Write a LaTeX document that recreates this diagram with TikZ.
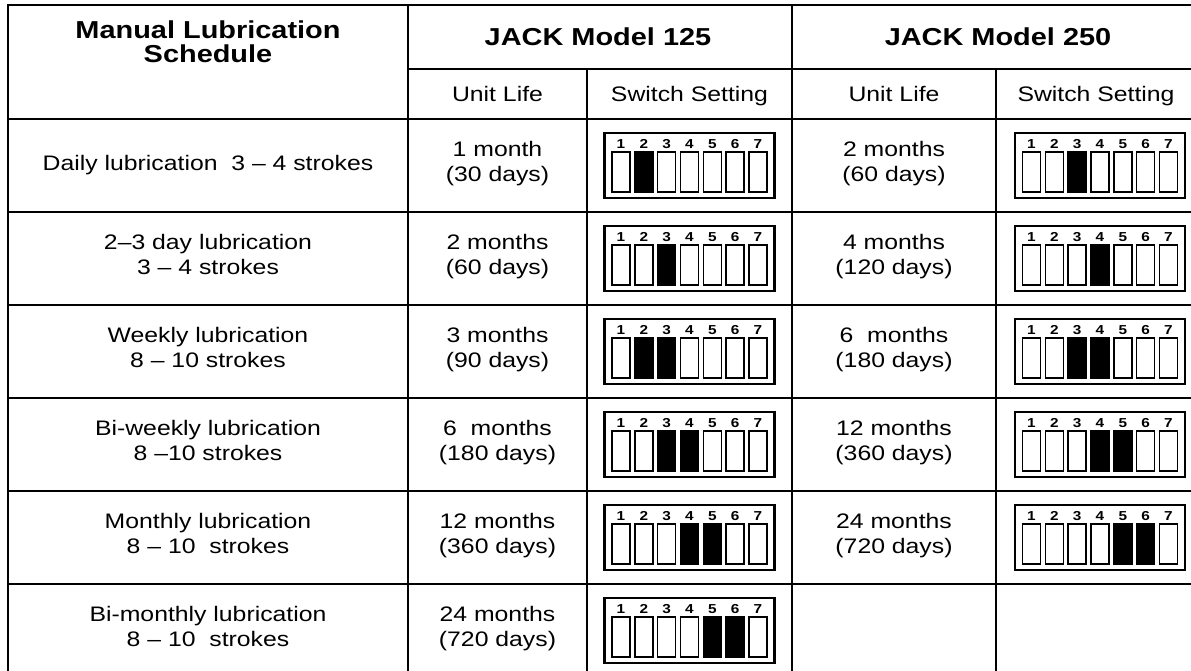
\documentclass[tikz,border=0pt]{standalone}
\usepackage{fontspec}
\setmainfont{Liberation Sans}[FakeStretch=1.18]
\usetikzlibrary{positioning}

\tikzset{
	pics/dip/.style={code={% one DIP switch, #1 = slots that are on
		\edef\dipon{#1}
		\draw[line width=2.6pt] (-85,-32.5) rectangle (85,32.5);
		\foreach \k in {1,...,7}{
			\node[font=\bfseries\fontsize{13}{13}\selectfont, inner sep=0pt]
				(n\k) at ({-68.5+(\k-1)*22.83},-21.5) {\k};
			\draw[line width=1.5pt] ({-77.5+(\k-1)*22.83},-13.5) rectangle ++(18,40);
		}
		\foreach \k in \dipon
			\fill ({-77.5+(\k-1)*22.83},-13.5) rectangle ++(18,40);
	}}
}

\begin{document}
\begin{tikzpicture}[
		x=1pt, y=-1pt,
		G/.style = {line width=1.6pt},% grid lines
		T/.style = {align=center, inner sep=0pt,
			font=\fontsize{21}{25}\selectfont,
			execute at begin node=\strut, execute at end node=\strut},
		H/.style = {align=center, inner sep=0pt,
			font=\bfseries\fontsize{24.5}{24}\selectfont},
		]
		\useasboundingbox (0,0) rectangle (1191,670);
		% grid
		\draw[G] (8,680) -- (8,5) -- (1210,5);
		\draw[G] (408,5) -- (408,680);
		\draw[G] (792,5) -- (792,680);
		\draw[G] (587,69) -- (587,680);
		\draw[G] (996,69) -- (996,680);
		\draw[G] (408,69) -- (1210,69);
		\foreach \y in {119,212,305,398,491,584}
		\draw[G] (8,\y) -- (1210,\y);
		% header
		\node[H] (sched) at (208,42) {Manual Lubrication\\Schedule};
		\node[H] (m125) at (598,37) {JACK Model 125};
		\node[H] (m250) at (998,37) {JACK Model 250};
		\node[T] (life1) at (497.5,96) {Unit Life};
		\node[T] (sw1) at (689.5,96) {Switch Setting};
		\node[T] (life2) at (894,96) {Unit Life};
		\node[T] (sw2) at (1096,96) {Switch Setting};
		% model 125
		\foreach [evaluate=\r as \yy using 72.5+93*\r]
			\r/\s/\l/\o in {
			1/{Daily lubrication\ \ 3 -- 4 strokes}/{1 month\\(30 days)}/{2},
			2/{2--3 day lubrication\\3 -- 4 strokes}/{2 months\\(60 days)}/{3},
			3/{Weekly lubrication\\8 -- 10 strokes}/{3 months\\(90 days)}/{2,3},
			4/{Bi-weekly lubrication\\8 --10 strokes}/{6\ \ months\\(180 days)}/{3,4},
			5/{Monthly lubrication\\8 -- 10\ \ strokes}/{12 months\\(360 days)}/{4,5},
			6/{Bi-monthly lubrication\\8 -- 10\ \ strokes}/{24 months\\(720 days)}/{5,6}}{
			\node[T] (s\r) at (208,\yy) {\s};
			\node[T] (a\r) at (497.5,\yy) {\l};
			\pic (p\r) at (689.5,\yy) {dip=\o};
		}
		% model 250
		\foreach [evaluate=\r as \yy using 72.5+93*\r]
			\r/\l/\o in {
			1/{2 months\\(60 days)}/{3},
			2/{4 months\\(120 days)}/{4},
			3/{6\ \ months\\(180 days)}/{3,4},
			4/{12 months\\(360 days)}/{4,5},
			5/{24 months\\(720 days)}/{5,6}}{
			\node[T] (b\r) at (894,\yy) {\l};
			\pic (q\r) at (1100,\yy) {dip=\o};
		}
	\end{tikzpicture}
\end{document}
